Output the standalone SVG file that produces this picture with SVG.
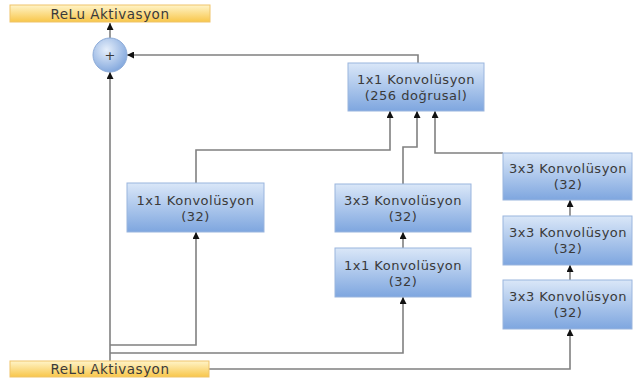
<svg xmlns="http://www.w3.org/2000/svg" width="633" height="383" viewBox="0 0 633 383">
  <defs>
    <linearGradient id="gBlue" x1="0" y1="0" x2="0" y2="1">
      <stop offset="0" stop-color="#dae7f8"/>
      <stop offset="1" stop-color="#7ea6df"/>
    </linearGradient>
    <linearGradient id="gYellow" x1="0" y1="0" x2="0" y2="1">
      <stop offset="0" stop-color="#fff4c8"/>
      <stop offset="1" stop-color="#f8c64a"/>
    </linearGradient>
    <radialGradient id="gCircle" cx="0.4" cy="0.35" r="0.7">
      <stop offset="0" stop-color="#e6effb"/>
      <stop offset="1" stop-color="#7fa5dc"/>
    </radialGradient>
    <marker id="arr" viewBox="0 0 10 10" refX="10" refY="5" markerWidth="7" markerHeight="7" markerUnits="userSpaceOnUse" orient="auto">
      <path d="M0,0 L10,5 L0,10 z" fill="#111"/>
    </marker>
  </defs>
  <style>
    .box { fill: url(#gBlue); stroke: #9ab5de; stroke-width: 1; }
    .relu { fill: url(#gYellow); stroke: #efc46a; stroke-width: 1; }
    .t { font-family: "DejaVu Sans", Verdana, sans-serif; font-size: 13px; letter-spacing: 0.5px; fill: #3a3a3a; text-anchor: middle; }
    .ca { fill: none; stroke: #808080; stroke-width: 1.6; marker-end: url(#arr); }
  </style>
  <rect width="633" height="383" fill="#ffffff"/>

  <g id="connectors">
    <path class="ca" d="M110,38 L110,23"/>
    <path class="ca" d="M110,361 L110,72"/>
    <path class="ca" d="M418,63 L418,55 L127,55"/>
    <path class="ca" d="M196,183 L196,150 L390,150 L390,111"/>
    <path class="ca" d="M403,184 L403,147 L417,147 L417,111"/>
    <path class="ca" d="M503,153 L435,153 L435,111"/>
    <path class="ca" d="M403,248 L403,232"/>
    <path class="ca" d="M570,216 L570,200"/>
    <path class="ca" d="M570,280 L570,265"/>
    <path class="ca" d="M110,345 L196,345 L196,232"/>
    <path class="ca" d="M110,353 L403,353 L403,297"/>
    <path class="ca" d="M209,369 L570,369 L570,329"/>
  </g>

  <g id="relu-top">
    <rect class="relu" x="10" y="5" width="200" height="17"/>
    <text class="t" x="110" y="18.5" style="font-size:13.5px">ReLu Aktivasyon</text>
  </g>

  <g id="sum">
    <circle cx="110" cy="55" r="17" fill="url(#gCircle)" stroke="#8eacd8" stroke-width="1"/>
    <text class="t" x="110" y="59.5" style="letter-spacing:0">+</text>
  </g>

  <g id="conv256">
    <rect class="box" x="348" y="63" width="136" height="48"/>
    <text class="t" x="416" y="84">1x1 Konvolüsyon</text>
    <text class="t" x="416" y="100">(256 doğrusal)</text>
  </g>

  <g id="left-1x1">
    <rect class="box" x="127" y="183" width="137" height="49"/>
    <text class="t" x="195.5" y="205">1x1 Konvolüsyon</text>
    <text class="t" x="195.5" y="221">(32)</text>
  </g>

  <g id="mid-3x3">
    <rect class="box" x="335" y="184" width="136" height="48"/>
    <text class="t" x="403" y="205">3x3 Konvolüsyon</text>
    <text class="t" x="403" y="221">(32)</text>
  </g>

  <g id="mid-1x1">
    <rect class="box" x="335" y="248" width="136" height="49"/>
    <text class="t" x="403" y="270">1x1 Konvolüsyon</text>
    <text class="t" x="403" y="286">(32)</text>
  </g>

  <g id="right-3x3-a">
    <rect class="box" x="503" y="153" width="129" height="47"/>
    <text class="t" x="568" y="173">3x3 Konvolüsyon</text>
    <text class="t" x="568" y="189">(32)</text>
  </g>

  <g id="right-3x3-b">
    <rect class="box" x="503" y="216" width="129" height="49"/>
    <text class="t" x="568" y="237">3x3 Konvolüsyon</text>
    <text class="t" x="568" y="253">(32)</text>
  </g>

  <g id="right-3x3-c">
    <rect class="box" x="503" y="280" width="129" height="49"/>
    <text class="t" x="568" y="301">3x3 Konvolüsyon</text>
    <text class="t" x="568" y="317">(32)</text>
  </g>

  <g id="relu-bottom">
    <rect class="relu" x="10" y="361" width="199" height="16"/>
    <text class="t" x="110" y="374" style="font-size:13.5px">ReLu Aktivasyon</text>
  </g>
</svg>
